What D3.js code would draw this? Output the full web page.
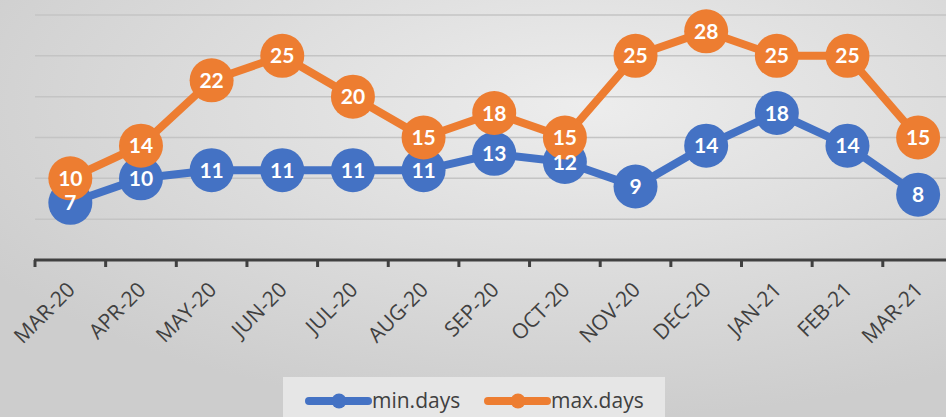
<!DOCTYPE html>
<html><head><meta charset="utf-8">
<script src="https://cdn.jsdelivr.net/npm/d3@7"></script>
<style>html,body{margin:0;padding:0;overflow:hidden;}svg{display:block;}</style>
</head><body>
<svg id="c" width="946" height="417"></svg>
<script>
const categories = ["MAR-20","APR-20","MAY-20","JUN-20","JUL-20","AUG-20","SEP-20","OCT-20","NOV-20","DEC-20","JAN-21","FEB-21","MAR-21"];
const minDays = [7,10,11,11,11,11,13,12,9,14,18,14,8];
const maxDays = [10,14,22,25,20,15,18,15,25,28,25,25,15];
const yTicks = [5,10,15,20,25,30];
const seriesNames = ["min.days","max.days"];
const colors = ["#4472C4","#ED7D31"];

const svg = d3.select("#c");
const W = 946, H = 417;
const defs = svg.append("defs");
const rg = defs.append("radialGradient").attr("id","bg")
  .attr("cx","0.62").attr("cy","0.25").attr("r","0.75");
rg.append("stop").attr("offset","0").attr("stop-color","#ededed");
rg.append("stop").attr("offset","1").attr("stop-color","#cdcdcd");
svg.append("rect").attr("width",W).attr("height",H).attr("fill","url(#bg)");

const x = d3.scaleBand().domain(categories).range([35, 35 + 13*70.65]).padding(0);
const y = d3.scaleLinear().domain([0,30]).range([260,15]);
const cx = c => x(c) + x.bandwidth()/2;

// gridlines
svg.append("g").selectAll("line").data(yTicks).join("line")
  .attr("x1",35).attr("x2",W).attr("y1",d=>y(d)).attr("y2",d=>y(d))
  .attr("stroke","#c4c4c4").attr("stroke-width",1.5);

// axis line & ticks
const ax = svg.append("g");
ax.append("line").attr("x1",34).attr("x2",W).attr("y1",y(0)).attr("y2",y(0))
  .attr("stroke","#404040").attr("stroke-width",3);
ax.selectAll("line.t").data(d3.range(categories.length+1)).join("line").attr("class","t")
  .attr("x1",i=>35+i*x.bandwidth()).attr("x2",i=>35+i*x.bandwidth())
  .attr("y1",y(0)).attr("y2",y(0)+7)
  .attr("stroke","#404040").attr("stroke-width",3);
ax.selectAll("text").data(categories).join("text")
  .attr("transform",c=>`translate(${cx(c)+6},${291}) rotate(-45)`)
  .attr("text-anchor","end")
  .attr("font-family","'Open Sans', sans-serif").attr("font-size",21)
  .attr("fill","#404040").text(c=>c);

// series
const data = [minDays, maxDays];
const line = d3.line().x((d,i)=>cx(categories[i])).y(d=>y(d));
data.forEach((vals,si)=>{
  const g = svg.append("g");
  g.append("path").datum(vals).attr("d",line).attr("fill","none")
    .attr("stroke",colors[si]).attr("stroke-width",8).attr("stroke-linejoin","round");
  g.selectAll("circle").data(vals).join("circle")
    .attr("cx",(d,i)=>cx(categories[i])).attr("cy",d=>y(d)).attr("r",22)
    .attr("fill",colors[si]);
});
data.forEach((vals,si)=>{
  svg.append("g").selectAll("text").data(vals).join("text")
    .attr("x",(d,i)=>cx(categories[i])).attr("y",d=>y(d)+7.5)
    .attr("text-anchor","middle").attr("font-family","Lato, sans-serif")
    .attr("font-weight","bold").attr("font-size",21).attr("fill","#ffffff")
    .text(d=>d);
});

// legend
const lg = svg.append("g");
lg.append("rect").attr("x",283).attr("y",377).attr("width",382).attr("height",45)
  .attr("fill","#e6e6e6");
const lx = [309, 488];
seriesNames.forEach((n,i)=>{
  lg.append("line").attr("x1",lx[i]).attr("x2",lx[i]+59).attr("y1",401).attr("y2",401)
    .attr("stroke",colors[i]).attr("stroke-width",8).attr("stroke-linecap","round");
  lg.append("circle").attr("cx",lx[i]+30).attr("cy",401).attr("r",7.5).attr("fill",colors[i]);
  lg.append("text").attr("x",lx[i]+63).attr("y",408)
    .attr("font-family","'Open Sans', sans-serif").attr("font-size",21)
    .attr("fill","#404040").text(n);
});
</script>
</body></html>
